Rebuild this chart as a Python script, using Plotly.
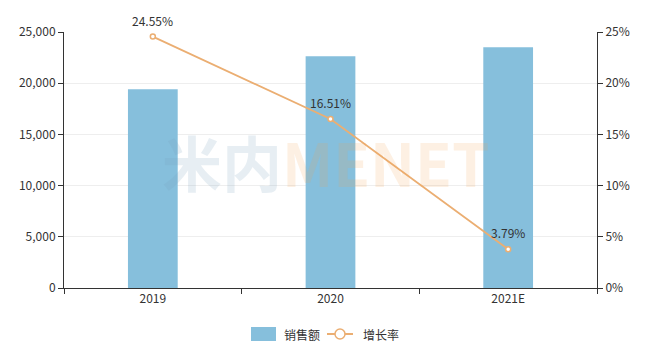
import plotly.graph_objects as go

categories = ["2019", "2020", "2021E"]
sales = [19420, 22640, 23520]
growth = [24.55, 16.51, 3.79]
growth_labels = ["24.55%", "16.51%", "3.79%"]
series_names = ["销售额", "增长率"]

font_family = "Noto Sans CJK SC, Noto Sans, sans-serif"
BAR_COLOR = "#86BFDC"
LINE_COLOR = "#EBAE72"

W, H = 651, 363
L, R, T, B = 64, 54, 32, 75
PW, PH = W - L - R, H - T - B


def px(x):
    return (x - L) / PW


def py(y):
    return (H - B - y) / PH


fig = go.Figure()
fig.add_trace(go.Bar(
    x=categories, y=sales, name=series_names[0],
    marker=dict(color=BAR_COLOR, line=dict(width=0)),
    width=0.28, showlegend=False,
))
fig.add_trace(go.Scatter(
    x=categories, y=growth, name=series_names[1], yaxis="y2",
    mode="lines+markers",
    line=dict(color=LINE_COLOR, width=1.8),
    marker=dict(symbol="circle", size=5, color="white", line=dict(color=LINE_COLOR, width=1.5)),
    cliponaxis=False, showlegend=False,
))

for i, (g, lab) in enumerate(zip(growth, growth_labels)):
    fig.add_annotation(x=i, y=g, xref="x", yref="y2", text=lab, showarrow=False,
                       yanchor="bottom", yshift=6,
                       font=dict(size=12, color="#333333", family=font_family))

# watermark
fig.add_annotation(
    x=0.49, y=0.5, xref="paper", yref="paper", showarrow=False,
    text="<b><span style='color:rgba(120,160,190,0.18)'>米内</span><span style='color:rgba(245,160,80,0.16)'>MENET</span></b>",
    font=dict(size=60, family="Noto Sans CJK SC, sans-serif"),
)

# custom legend
ly = 334
fig.add_shape(type="rect", xref="paper", yref="paper",
              x0=px(251), x1=px(276), y0=py(327), y1=py(341),
              fillcolor=BAR_COLOR, line=dict(width=0))
fig.add_annotation(x=px(282), y=py(ly), xref="paper", yref="paper", text=series_names[0],
                   showarrow=False, xanchor="left", yanchor="middle",
                   font=dict(size=12, color="#333333", family=font_family))
fig.add_shape(type="line", xref="paper", yref="paper",
              x0=px(327), x1=px(353), y0=py(ly), y1=py(ly),
              line=dict(color=LINE_COLOR, width=2))
fig.add_shape(type="circle", xref="paper", yref="paper",
              x0=px(335), x1=px(345), y0=py(ly + 5), y1=py(ly - 5),
              fillcolor="white", line=dict(color=LINE_COLOR, width=1.5))
fig.add_annotation(x=px(361), y=py(ly), xref="paper", yref="paper", text=series_names[1],
                   showarrow=False, xanchor="left", yanchor="middle",
                   font=dict(size=12, color="#333333", family=font_family))

fig.update_layout(
    width=W, height=H,
    margin=dict(l=L, r=R, t=T, b=B),
    paper_bgcolor="white", plot_bgcolor="white",
    font=dict(family=font_family, size=12, color="#333333"),
    showlegend=False,
    bargap=0.72,
    xaxis=dict(
        type="category", categoryorder="array", categoryarray=categories,
        range=[-0.5, len(categories) - 0.5],
        showline=True, linecolor="#333333", linewidth=1,
        ticks="outside", tickson="boundaries", ticklen=5, tickcolor="#333333",
        showgrid=False, tickfont=dict(size=12, color="#333333"),
    ),
    yaxis=dict(
        range=[0, 25000], dtick=5000, tickformat=",d",
        showline=True, linecolor="#333333", linewidth=1,
        ticks="outside", ticklen=5, tickcolor="#333333",
        showgrid=True, gridcolor="#EEEEEE", zeroline=False,
        tickfont=dict(size=12, color="#333333"),
    ),
    yaxis2=dict(
        range=[0, 25], dtick=5, ticksuffix="%", overlaying="y", side="right",
        showline=True, linecolor="#333333", linewidth=1,
        ticks="outside", ticklen=5, tickcolor="#333333",
        showgrid=False, zeroline=False,
        tickfont=dict(size=12, color="#333333"),
    ),
)

fig.write_html("out.html", config={"displayModeBar": False},
               post_script="document.body.style.margin='0';")
